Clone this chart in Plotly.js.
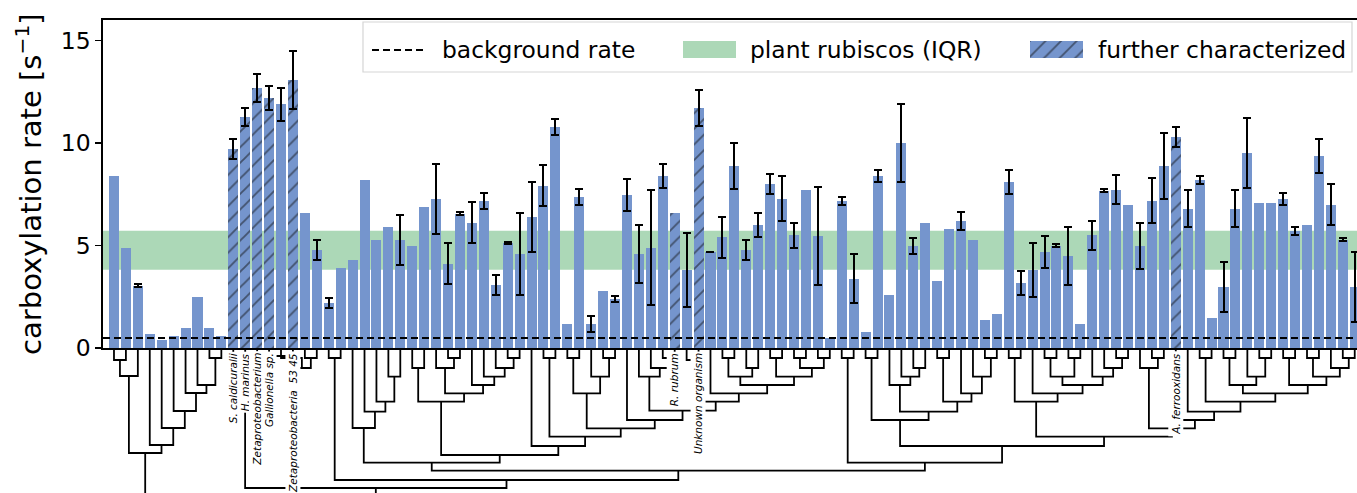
<!DOCTYPE html>
<html>
<head>
<meta charset="utf-8">
<script src="https://cdn.plot.ly/plotly-3.0.1.min.js"></script>
<style>html,body{margin:0;padding:0;background:#fff}#chart{width:1357px;height:493px}</style>
</head>
<body>
<div id="chart"></div>
<script>
// ---------------- data ----------------
const rates = [8.4, 4.9, 3.05, 0.69, 0.4, 0.59, 0.98, 2.51, 0.98, 0.59,
 9.7, 11.26, 12.69, 12.19, 11.9, 13.08, 6.6, 4.79, 2.19, 3.91,
 4.3, 8.2, 5.28, 5.91, 5.28, 4.99, 6.89, 7.28, 4.11, 6.55,
 6.11, 7.18, 3.08, 5.13, 4.6, 6.4, 7.91, 10.79, 1.18, 7.37,
 1.18, 2.79, 2.4, 7.47, 4.6, 4.89, 8.4, 6.61, 3.81, 11.72,
 4.69, 5.4, 8.89, 4.79, 6.0, 8.0, 7.28, 5.5, 7.72, 5.47,
 0.5, 7.18, 3.38, 0.79, 8.4, 2.6, 10.01, 4.99, 6.11, 3.28,
 5.81, 6.2, 5.28, 1.38, 1.67, 8.11, 3.18, 3.81, 4.69, 4.99,
 4.5, 1.18, 5.5, 7.67, 7.72, 6.99, 4.99, 7.18, 8.89, 10.3,
 6.79, 8.2, 1.47, 2.99, 6.79, 9.52, 7.08, 7.08, 7.28, 5.72,
 6.01, 9.38, 6.99, 5.28, 2.99];

const rateErr = [null, null, 0.07, null, null, null, null, null, null, null,
 0.5, 0.43, 0.7, 0.6, 0.8, 1.4, null, 0.5, 0.24, null,
 null, null, null, null, 1.2, null, null, 1.72, 1.0, 0.07,
 1.0, 0.4, 0.5, 0.07, 2.0, 1.72, 1.0, 0.4, null, 0.4,
 0.4, null, 0.15, 0.8, 1.4, 2.8, 0.6, null, 1.8, 0.88,
 0.02, 1.0, 1.12, 0.5, 0.6, 0.5, 1.1, 0.6, null, 2.4,
 null, 0.2, 1.2, null, 0.3, null, 1.9, 0.4, null, null,
 null, 0.43, null, null, null, 0.6, 0.6, 1.3, 0.8, 0.07,
 1.4, null, 0.7, 0.07, 0.7, null, 1.13, 1.1, 1.6, 0.48,
 0.9, 0.2, null, 1.22, 0.9, 1.7, null, null, 0.3, 0.2,
 null, 0.82, 1.0, 0.07, 1.7];

// leaves (1-based bar numbers) that were further characterized, and their names
const characterized = [11, 12, 13, 14, 16, 48, 50, 90];
const characterizedNames = ["S. caldicuralii", "H. marinus", "Zetaproteobacterium", "Gallionella sp.",
  "Zetaproteobacteria  53 45", "R. rubrum", "Unknown organism", "A. ferrooxidans"];

const backgroundRate = [0.5];
const plantIQR = [3.83, 5.72];
const yTicks = [0, 5, 10, 15];

// dendrogram: [mergeHeight, left, right]; leaves are 1-based bar numbers
const leafHeight = 349.5;
const L = [453, [376, [360, 1, 2], 3], [445, 4, [428, 5, [411, 6, [393, 7, [385, 8, [358, 9, 10]]]]]]];
const G = [358, 11, [356, 12, [356, 13, [356, 14, [358, 15, [368, 16, [358, 17, 18]]]]]]];
const M1 = [428, 21, [411.7, 22, [401.7, 23, [376.7, 24, 25]]]];
const N440 = [401.7, [368, 26, 27], [393.3, [368, 28, [358, 29, 30]], [385, 31, [376.7, 32, [368, 33, [358, 34, 35]]]]]];
const Ysub = [393.3, [358, 39, 40], [376.7, 41, [358, 42, 43]]];
const Zl = [376.7, 45, [368, 46, [358, 47, 48]]];
const V = [385, [376.7, [358, 52, 53], [368, 54, 55]], [376.7, [358, 56, 57], [368, [358, 58, 59], [358, 60, 61]]]];
const Zr = [401.7, [360, 49, 50], [393.3, 51, V]];
const Zsub = [420, 44, [410.7, Zl, Zr]];
const Xsub = [436.7, [358, 37, 38], [428.3, Ysub, Zsub]];
const N558 = [446, 36, Xsub];
const N500 = [455, N440, N558];
const N431 = [462.7, M1, N500];
const C900 = [420, [358, 64, 65], [411.7, [385, 66, [376.7, 67, [368, 68, 69]]], [401.7, [358, 70, 71], [393.3, 72, [376.7, 73, [358, 74, 75]]]]]];
const A1035 = [401.7, [358, 76, 77], [393.3, 78, [385, [376.7, [358, 79, 80], [358, 81, 82]], [376.7, 83, [368, 84, [358, 85, 86]]]]]];
const X2 = [393.3, [385, [358, 94, 95], [376.7, 96, [358, 97, 98]]], [385, [358, 99, 100], [376.7, [358, 101, 102], [368, 103, [358, 104, 105]]]]];
const B1172 = [428.3, [368, 87, [358, 88, 89]], [420, 90, [411.7, 91, [401.7, [358, 92, 93], X2]]]];
const R1105 = [436.7, A1035, B1172];
const D = [446, C900, R1105];
const N925 = [462.7, [358, 62, 63], D];
const N678 = [470.7, N431, N925];
const N506 = [480, [358, 19, 20], N678];
const N376 = [488, G, N506];
const tree = [505, L, N376];

// ---------------- build ----------------
const xs = rates.map((_, i) => i);
const isChar = xs.map(i => characterized.includes(i + 1));
const errArr = rateErr.map(e => (e === null ? NaN : e));
const barColor = '#7595cd';

const segX = [], segY = [];
function walk(node) {
  if (typeof node === 'number') return {x: node - 1, h: leafHeight};
  const h = node[0];
  const a = walk(node[1]), b = walk(node[2]);
  segX.push(a.x, a.x, b.x, b.x, null);
  segY.push(a.h, h, h, b.h, null);
  return {x: (a.x + b.x) / 2, h: h};
}
walk(tree);

// pixel helpers for layout-only decorations (legend box)
const W = 1357, H = 493, ML = 103, MT = 20;
const PW = W - ML, PH = H - MT;
const px = v => (v - ML) / PW;
const py = v => (H - v) / PH;
const splitY = py(348.2);

const hatch = {fgcolor: '#111', bgcolor: barColor, size: 11, solidity: 0.17, fillmode: 'overlay'};

const traces = [
  {
    type: 'bar', x: xs, y: rates, xaxis: 'x', yaxis: 'y', width: 0.84,
    marker: {color: barColor, line: {width: 0},
      pattern: Object.assign({shape: isChar.map(c => c ? '/' : '')}, hatch)},
    error_y: {type: 'data', array: errArr, visible: true, color: '#000', thickness: 2, width: 4},
    showlegend: false, hoverinfo: 'skip'
  },
  {
    type: 'scatter', mode: 'lines', x: segX, y: segY, xaxis: 'x', yaxis: 'y2',
    line: {color: '#000', width: 1.8}, connectgaps: false, showlegend: false, hoverinfo: 'skip'
  },
  {
    type: 'bar', x: [0], y: [1], xaxis: 'x3', yaxis: 'y3', width: 1,
    marker: {color: barColor, line: {width: 0}, pattern: Object.assign({shape: '/'}, hatch)},
    showlegend: false, hoverinfo: 'skip'
  }
];

const shapes = [
  {type: 'rect', xref: 'paper', yref: 'y', x0: 0, x1: 1, y0: plantIQR[0], y1: plantIQR[1],
   fillcolor: '#acd8b7', line: {width: 0}, layer: 'below'},
  {type: 'line', xref: 'paper', yref: 'y', x0: 0, x1: 1, y0: backgroundRate[0], y1: backgroundRate[0],
   line: {color: '#000', width: 2, dash: '7px,4px'}, layer: 'above'},
  {type: 'rect', xref: 'paper', yref: 'paper', x0: px(363), x1: px(1352), y0: py(72), y1: py(22),
   fillcolor: 'rgba(255,255,255,0.8)', line: {color: '#d5d5d5', width: 1.2}, layer: 'below'},
  {type: 'line', xref: 'paper', yref: 'paper', x0: px(372), x1: px(426), y0: py(50), y1: py(50),
   line: {color: '#000', width: 2, dash: '7px,4px'}},
  {type: 'rect', xref: 'paper', yref: 'paper', x0: px(683), x1: px(736), y0: py(58), y1: py(41),
   fillcolor: '#acd8b7', line: {width: 0}}
];

const legendFont = {family: 'DejaVu Sans', size: 23.4, color: '#000'};
const annotations = [
  {xref: 'paper', yref: 'paper', x: px(440), y: py(50), xanchor: 'left', yanchor: 'middle', showarrow: false,
   text: 'background rate', font: legendFont},
  {xref: 'paper', yref: 'paper', x: px(748), y: py(50), xanchor: 'left', yanchor: 'middle', showarrow: false,
   text: 'plant rubiscos (IQR)', font: legendFont},
  {xref: 'paper', yref: 'paper', x: px(1096), y: py(50), xanchor: 'left', yanchor: 'middle', showarrow: false,
   text: 'further characterized', font: legendFont}
];
characterized.forEach((leaf, k) => {
  annotations.push({
    xref: 'x', yref: 'y2', x: leaf - 1, y: 351, xanchor: 'center', yanchor: 'top', showarrow: false,
    textangle: -90, text: '<i>' + characterizedNames[k] + '</i>',
    font: {family: 'DejaVu Sans', size: 10.5, color: '#000'}, bgcolor: '#fff', borderpad: 1
  });
});

const layout = {
  width: W, height: H,
  margin: {l: ML, r: 0, t: MT, b: 0, pad: 0},
  paper_bgcolor: '#fff', plot_bgcolor: 'rgba(0,0,0,0)',
  showlegend: false, bargap: 0,
  xaxis: {domain: [0, 1], anchor: 'y', range: [-0.92, 104.19], showgrid: false, zeroline: false,
          showticklabels: false, ticks: '', showline: true, mirror: true, linecolor: '#000', linewidth: 1.6},
  yaxis: {domain: [splitY, 1], anchor: 'x', range: [0, 16], tickvals: yTicks, ticktext: yTicks.map(String),
          showgrid: false, zeroline: false, showline: true, linecolor: '#000', linewidth: 1.6,
          ticks: 'outside', ticklen: 6, tickwidth: 1.6, tickcolor: '#000',
          tickfont: {family: 'DejaVu Sans', size: 23.5, color: '#000'},
          title: {text: 'carboxylation rate [s<sup>\u22121</sup>]', font: {family: 'DejaVu Sans', size: 29, color: '#000'}, standoff: 10}},
  yaxis2: {domain: [0, splitY], anchor: 'x', range: [493, 348.2], showgrid: false, zeroline: false,
           showticklabels: false, ticks: '', showline: false},
  xaxis3: {domain: [px(1030), px(1083)], anchor: 'y3', range: [-0.5, 0.5], visible: false, fixedrange: true},
  yaxis3: {domain: [py(58), py(41)], anchor: 'x3', range: [0, 1], visible: false, fixedrange: true},
  shapes: shapes,
  annotations: annotations
};

Plotly.newPlot('chart', traces, layout, {staticPlot: true, displayModeBar: false});
</script>
</body>
</html>
